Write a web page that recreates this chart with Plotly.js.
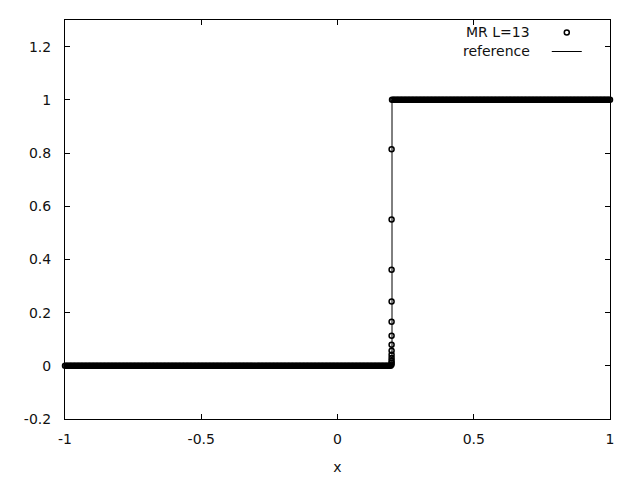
<!DOCTYPE html>
<html>
<head>
<meta charset="utf-8">
<script src="https://cdn.plot.ly/plotly-3.0.1.min.js"></script>
<style>html,body{margin:0;padding:0;background:#fff;}#plot{width:640px;height:480px;}</style>
</head>
<body>
<div id="plot"></div>
<script>
// MR L=13 solution: flat region at level 0 (left of the jump)
const lowX = [-1,-0.995,-0.99,-0.985,-0.98,-0.975,-0.97,-0.965,-0.96,-0.955,-0.95,-0.945,-0.94,-0.935,-0.93,-0.925,-0.92,-0.915,-0.91,-0.905,
-0.9,-0.895,-0.89,-0.885,-0.88,-0.875,-0.87,-0.865,-0.86,-0.855,-0.85,-0.845,-0.84,-0.835,-0.83,-0.825,-0.82,-0.815,-0.81,-0.805,
-0.8,-0.795,-0.79,-0.785,-0.78,-0.775,-0.77,-0.765,-0.76,-0.755,-0.75,-0.745,-0.74,-0.735,-0.73,-0.725,-0.72,-0.715,-0.71,-0.705,
-0.7,-0.695,-0.69,-0.685,-0.68,-0.675,-0.67,-0.665,-0.66,-0.655,-0.65,-0.645,-0.64,-0.635,-0.63,-0.625,-0.62,-0.615,-0.61,-0.605,
-0.6,-0.595,-0.59,-0.585,-0.58,-0.575,-0.57,-0.565,-0.56,-0.555,-0.55,-0.545,-0.54,-0.535,-0.53,-0.525,-0.52,-0.515,-0.51,-0.505,
-0.5,-0.495,-0.49,-0.485,-0.48,-0.475,-0.47,-0.465,-0.46,-0.455,-0.45,-0.445,-0.44,-0.435,-0.43,-0.425,-0.42,-0.415,-0.41,-0.405,
-0.4,-0.395,-0.39,-0.385,-0.38,-0.375,-0.37,-0.365,-0.36,-0.355,-0.35,-0.345,-0.34,-0.335,-0.33,-0.325,-0.32,-0.315,-0.31,-0.305,
-0.3,-0.295,-0.29,-0.285,-0.28,-0.275,-0.27,-0.265,-0.26,-0.255,-0.25,-0.245,-0.24,-0.235,-0.23,-0.225,-0.22,-0.215,-0.21,-0.205,
-0.2,-0.195,-0.19,-0.185,-0.18,-0.175,-0.17,-0.165,-0.16,-0.155,-0.15,-0.145,-0.14,-0.135,-0.13,-0.125,-0.12,-0.115,-0.11,-0.105,
-0.1,-0.095,-0.09,-0.085,-0.08,-0.075,-0.07,-0.065,-0.06,-0.055,-0.05,-0.045,-0.04,-0.035,-0.03,-0.025,-0.02,-0.015,-0.01,-0.005,
0,0.005,0.01,0.015,0.02,0.025,0.03,0.035,0.04,0.045,0.05,0.055,0.06,0.065,0.07,0.075,0.08,0.085,0.09,0.095,
0.1,0.105,0.11,0.115,0.12,0.125,0.13,0.135,0.14,0.145,0.15,0.155,0.16,0.165,0.17,0.175,0.18,0.185,0.19,0.195];
const lowLevel = 0;
// flat region at level 1 (right of the jump)
const highX = [0.2,0.205,0.21,0.215,0.22,0.225,0.23,0.235,0.24,0.245,0.25,0.255,0.26,0.265,0.27,0.275,0.28,0.285,0.29,0.295,
0.3,0.305,0.31,0.315,0.32,0.325,0.33,0.335,0.34,0.345,0.35,0.355,0.36,0.365,0.37,0.375,0.38,0.385,0.39,0.395,
0.4,0.405,0.41,0.415,0.42,0.425,0.43,0.435,0.44,0.445,0.45,0.455,0.46,0.465,0.47,0.475,0.48,0.485,0.49,0.495,
0.5,0.505,0.51,0.515,0.52,0.525,0.53,0.535,0.54,0.545,0.55,0.555,0.56,0.565,0.57,0.575,0.58,0.585,0.59,0.595,
0.6,0.605,0.61,0.615,0.62,0.625,0.63,0.635,0.64,0.645,0.65,0.655,0.66,0.665,0.67,0.675,0.68,0.685,0.69,0.695,
0.7,0.705,0.71,0.715,0.72,0.725,0.73,0.735,0.74,0.745,0.75,0.755,0.76,0.765,0.77,0.775,0.78,0.785,0.79,0.795,
0.8,0.805,0.81,0.815,0.82,0.825,0.83,0.835,0.84,0.845,0.85,0.855,0.86,0.865,0.87,0.875,0.88,0.885,0.89,0.895,
0.9,0.905,0.91,0.915,0.92,0.925,0.93,0.935,0.94,0.945,0.95,0.955,0.96,0.965,0.97,0.975,0.98,0.985,0.99,0.995,1];
const highLevel = 1;
// points inside the jump
const jumpX = [0.1985,0.1985,0.1985,0.1985,0.1985,0.1985,0.1985,0.1985,0.1985,0.1985,0.1985,0.1985,0.1985];
const jumpY = [0.814,0.55,0.361,0.2415,0.166,0.113,0.079,0.057,0.042,0.029,0.019,0.011,0.005];
// reference solution (step)
const refX = [-1, 0.2, 0.2, 1];
const refY = [0, 0, 1, 1];
const seriesNames = ["MR L=13", "reference"];
const yTicks = [-0.2, 0, 0.2, 0.4, 0.6, 0.8, 1, 1.2];
const yTickText = ["-0.2", "0", "0.2", "0.4", "0.6", "0.8", "1", "1.2"];
const xTicks = [-1, -0.5, 0, 0.5, 1];
const xTickText = ["-1", "-0.5", "0", "0.5", "1"];

const mrX = lowX.concat(jumpX, highX);
const mrY = lowX.map(() => lowLevel).concat(jumpY, highX.map(() => highLevel));

const font = {family: "DejaVu Sans, sans-serif", size: 14, color: "#111"};

const traces = [
  {x: mrX, y: mrY, type: "scatter", mode: "markers", name: "",
   marker: {symbol: "circle-open", size: 5, color: "#000", line: {width: 1.5, color: "#000"}},
   hoverinfo: "skip", cliponaxis: false},
  {x: refX, y: refY, type: "scatter", mode: "lines", name: "",
   line: {color: "#000", width: 1}, hoverinfo: "skip"}
];

const axisCommon = {showline: true, linecolor: "#000", linewidth: 1, mirror: "allticks",
  ticks: "inside", ticklen: 5, tickcolor: "#000", tickwidth: 1, showgrid: false, zeroline: false,
  tickfont: font};

const layout = {
  width: 640, height: 480,
  margin: {l: 65, r: 30, t: 20, b: 61},
  paper_bgcolor: "#fff", plot_bgcolor: "#fff",
  font: font,
  showlegend: true,
  legend: {x: 0.884, y: 1.005, xanchor: "left", yanchor: "top", bgcolor: "rgba(0,0,0,0)",
    font: {family: "DejaVu Sans, sans-serif", size: 11, color: "#111"}, tracegroupgap: 0},
  xaxis: Object.assign({}, axisCommon, {range: [-1, 1], tickvals: xTicks, ticktext: xTickText,
    ticklabelstandoff: 7, title: {text: "x", font: font, standoff: 16}}),
  yaxis: Object.assign({}, axisCommon, {range: [-0.2, 1.3], tickvals: yTicks, ticktext: yTickText,
    ticklabelstandoff: 10}),
  annotations: [
    {xref: "paper", yref: "paper", x: 0.857, y: 0.970, xanchor: "right", yanchor: "middle",
     text: seriesNames[0], showarrow: false, font: font},
    {xref: "paper", yref: "paper", x: 0.857, y: 0.922, xanchor: "right", yanchor: "middle",
     text: seriesNames[1], showarrow: false, font: font}
  ]
};

Plotly.newPlot("plot", traces, layout, {staticPlot: true, displayModeBar: false});
</script>
</body>
</html>
